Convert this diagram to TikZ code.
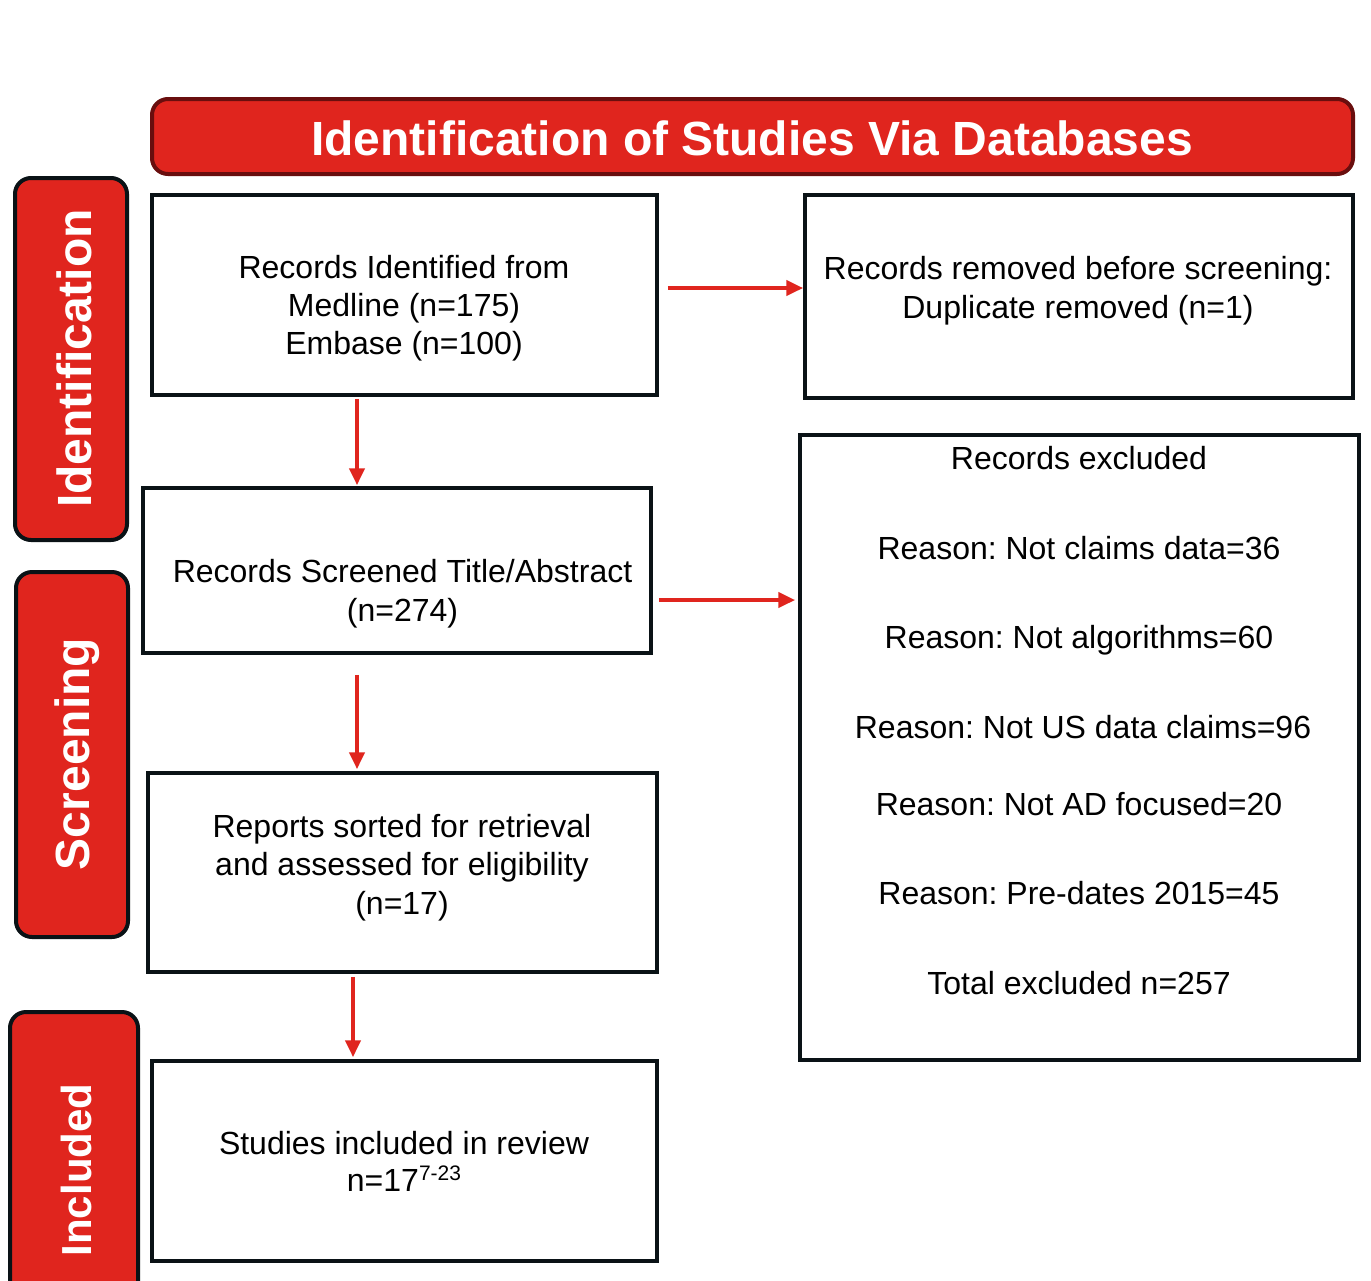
\documentclass[tikz,border=0pt]{standalone}
\usepackage{fontspec}
\setmainfont{Liberation Sans}
\usetikzlibrary{arrows.meta}
\definecolor{pred}{RGB}{224,37,30}
\definecolor{dred}{RGB}{105,14,14}
\definecolor{bk}{RGB}{10,18,22}
\frenchspacing
\begin{document}
\begin{tikzpicture}[x=1pt,y=-1pt,
  box/.style={draw=bk,line width=3.5pt,fill=white,inner sep=0pt},
  sidebox/.style={draw=bk,line width=4pt,fill=pred,rounded corners=16pt,inner sep=0pt},
  txt/.style={anchor=base,inner sep=0pt,font=\fontsize{32}{38}\selectfont},
  sidetxt/.style={anchor=base,inner sep=0pt,rotate=90,text=white,font=\fontsize{48}{48}\selectfont\bfseries},
  arr/.style={draw=pred,line width=4.5pt,-{Triangle[length=17pt,width=15pt]}}]
\clip (0,0) rectangle (1371,1280);
\fill[white] (0,0) rectangle (1371,1280);

% header
\node[draw=dred,line width=4pt,fill=pred,rounded corners=16pt,inner sep=0pt,
      minimum width=1201pt,minimum height=75pt] (head) at (752.5,136.5) {};
\node[anchor=base,inner sep=0pt,text=white,font=\fontsize{48}{48}\selectfont\bfseries]
      (headt) at (752,155) {Identification of Studies Via Databases};

% side labels
\node[sidebox,minimum width=112pt,minimum height=362pt] (s1) at (71,359) {};
\node[sidetxt] (s1t) at (91,358.5) {Identification};
\node[sidebox,minimum width=112pt,minimum height=365pt] (s2) at (72,754.5) {};
\node[sidetxt] (s2t) at (89,754) {Screening};
\node[sidebox,minimum width=128pt,minimum height=288pt] (s3) at (74,1156) {};
\node[sidetxt,font=\fontsize{42}{42}\selectfont\bfseries] (s3t) at (91,1170) {Included};

% boxes
\node[box,minimum width=505pt,minimum height=200pt] (b1) at (404.5,295) {};
\node[box,minimum width=548pt,minimum height=203pt] (b2) at (1079,296.5) {};
\node[box,minimum width=508pt,minimum height=165pt] (b3) at (397,570.5) {};
\node[box,minimum width=509pt,minimum height=199pt] (b4) at (402.5,872.5) {};
\node[box,minimum width=505pt,minimum height=200pt] (b5) at (404.5,1161) {};
\node[box,minimum width=559pt,minimum height=625pt] (b6) at (1079.5,747.5) {};

% texts
\node[txt] (b1a) at (404,278) {Records Identified from};
\node[txt] (b1b) at (404,316) {Medline (n=175)};
\node[txt] (b1c) at (404,354) {Embase (n=100)};

\node[txt] (b2a) at (1078,279.5) {Records removed before screening:};
\node[txt] (b2b) at (1078,318) {Duplicate removed (n=1)};

\node[txt] (b3a) at (402.5,582) {Records Screened Title/Abstract};
\node[txt] (b3b) at (402.5,621) {(n=274)};

\node[txt] (b4a) at (402,837) {Reports sorted for retrieval};
\node[txt] (b4b) at (402,875) {and assessed for eligibility};
\node[txt] (b4c) at (402,914) {(n=17)};

\node[txt] (b5a) at (404,1154) {Studies included in review};
\node[txt] (b5b) at (404,1191) {n=17\raisebox{11pt}{\fontsize{21}{21}\selectfont 7-23}};

\node[txt] (b6a) at (1079,469) {Records excluded};
\node[txt] (b6b) at (1079,559) {Reason: Not claims data=36};
\node[txt] (b6c) at (1079,648) {Reason: Not algorithms=60};
\node[txt] (b6d) at (1083,738) {Reason: Not US data claims=96};
\node[txt] (b6e) at (1079,815) {Reason: Not AD focused=20};
\node[txt] (b6f) at (1079,904) {Reason: Pre-dates 2015=45};
\node[txt] (b6g) at (1079,994) {Total excluded n=257};

% arrows
\draw[arr] ([xshift=-47.5pt,yshift=-2pt]b1.south) -- ([xshift=-40pt,yshift=1pt]b3.north);
\draw[arr] ([xshift=-40pt,yshift=-20pt]b3.south) -- ([xshift=-45.5pt,yshift=2pt]b4.north);
\draw[arr] ([xshift=-49.5pt,yshift=-3pt]b4.south) -- ([xshift=-51.5pt,yshift=2pt]b5.north);
\draw[arr] ([xshift=9pt,yshift=7pt]b1.east) -- ([xshift=0pt,yshift=8.5pt]b2.west);
\draw[arr] ([xshift=6pt,yshift=-29.5pt]b3.east) -- ([xshift=-3pt,yshift=147.5pt]b6.west);
\end{tikzpicture}
\end{document}
